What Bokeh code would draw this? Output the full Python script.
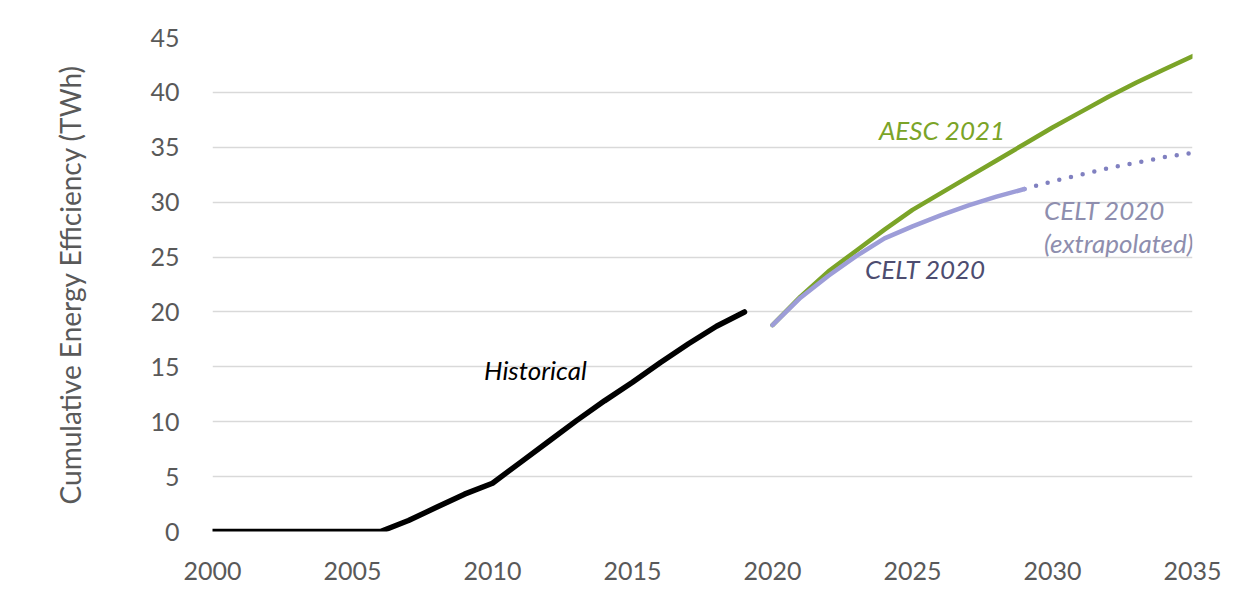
from bokeh.plotting import figure
from bokeh.models import FixedTicker, Range1d, ColumnDataSource
from bokeh.core.properties import value
from bokeh.embed import file_html
from bokeh.resources import INLINE

# ---- data ----
hist_years = list(range(2000, 2020))
hist_vals = [0, 0, 0, 0, 0, 0, 0, 1.0, 2.2, 3.4, 4.4, 6.3, 8.2, 10.1, 11.9, 13.6, 15.4, 17.1, 18.7, 20.0]

aesc_years = list(range(2020, 2036))
aesc_vals = [18.8, 21.4, 23.7, 25.6, 27.5, 29.3, 30.8, 32.3, 33.8, 35.3, 36.8, 38.2, 39.6, 40.9, 42.1, 43.3]

celt_years = list(range(2020, 2030))
celt_vals = [18.8, 21.3, 23.3, 25.1, 26.7, 27.8, 28.8, 29.7, 30.5, 31.2]

celt_ext_years = [2029, 2030, 2031, 2032, 2033, 2034, 2035]
celt_ext_vals = [31.2, 31.9, 32.5, 33.1, 33.6, 34.1, 34.5]

x_ticks = [2000, 2005, 2010, 2015, 2020, 2025, 2030, 2035]
y_ticks = [0, 5, 10, 15, 20, 25, 30, 35, 40, 45]

labels_x = [2009.7, 2023.8, 2023.3, 2029.7, 2029.7]
labels_y = [14.75, 36.6, 23.9, 29.3, 26.3]
labels_text = ["Historical", "AESC 2021", "CELT 2020", "CELT 2020", "(extrapolated)"]
labels_color = ["#000000", "#7ba428", "#4d4d70", "#8e8eae", "#8e8eae"]

FONT = "Lato"
GRAY = "#595959"

p = figure(width=1233, height=587, output_backend="svg", toolbar_location=None,
           x_range=Range1d(2000, 2035), y_range=Range1d(0, 45),
           min_border_left=212, min_border_right=41, min_border_top=37, min_border_bottom=56)
p.outline_line_color = None
p.background_fill_color = "white"
p.border_fill_color = "white"

p.xgrid.grid_line_color = None
p.ygrid.grid_line_color = "#d9d9d9"
p.ygrid.grid_line_width = 1.5

p.xaxis.ticker = FixedTicker(ticks=x_ticks)
p.yaxis.ticker = FixedTicker(ticks=y_ticks)
for ax in (p.xaxis, p.yaxis):
    ax.axis_line_color = None
    ax.major_tick_line_color = None
    ax.minor_tick_line_color = None
    ax.major_label_text_font = FONT
    ax.major_label_text_font_size = "25px"
    ax.major_label_text_color = GRAY
p.xaxis.major_label_standoff = 24
p.yaxis.major_label_standoff = 27
p.yaxis.axis_label = "Cumulative Energy Efficiency (TWh)"
p.yaxis.axis_label_text_font = FONT
p.yaxis.axis_label_text_font_style = "normal"
p.yaxis.axis_label_text_font_size = "28px"
p.yaxis.axis_label_text_color = GRAY
p.yaxis.axis_label_standoff = 60

p.line(hist_years, hist_vals, line_color="black", line_width=5.5, line_cap="round", line_join="round")
p.line(aesc_years, aesc_vals, line_color="#7ba428", line_width=4.5, line_cap="round", line_join="round")
p.line(celt_ext_years, celt_ext_vals, line_color="#8080c0", line_width=4.5, line_cap="round",
       line_dash="0 12", line_dash_offset=0)
p.line(celt_years, celt_vals, line_color="#9d9dd8", line_width=4.5, line_cap="round", line_join="round")

src = ColumnDataSource(dict(x=labels_x, y=labels_y, t=labels_text, c=labels_color))
p.text(x="x", y="y", text="t", text_color="c", source=src, text_font=value(FONT),
       text_font_style="italic", text_font_size="26px", text_baseline="middle", text_align="left")

open("out.html", "w").write(file_html(p, INLINE))
